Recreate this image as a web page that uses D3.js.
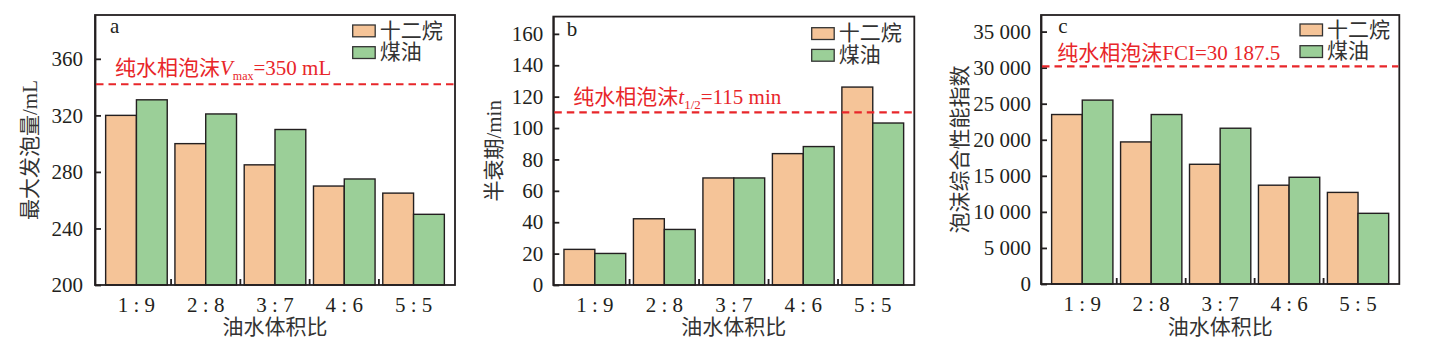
<!DOCTYPE html>
<html><head><meta charset="utf-8">
<script src="https://cdn.jsdelivr.net/npm/d3@7"></script>
<style>
html,body{margin:0;padding:0;background:#fff;}
svg{display:block;}
text{font-family:"Liberation Serif","Noto Sans CJK SC",serif;}
</style></head>
<body>
<svg id="chart" width="1439" height="352"></svg>
<script>
// ---- data ----
const categories = ["1 : 9", "2 : 8", "3 : 7", "4 : 6", "5 : 5"];
const seriesNames = ["十二烷", "煤油"];
const foamVolDodecane = [320, 300, 285, 270, 265];
const foamVolKerosene = [331, 321, 310, 275, 250];
const halfLifeDodecane = [22.7, 42.2, 68.2, 83.7, 126.1];
const halfLifeKerosene = [20.1, 35.4, 68.2, 88.2, 103.2];
const fciDodecane = [23500, 19700, 16600, 13700, 12700];
const fciKerosene = [25500, 23500, 21600, 14800, 9800];
const refValues = [342, 110, 30187.5];
const yTicksA = [200, 240, 280, 320, 360];
const yTicksB = [0, 20, 40, 60, 80, 100, 120, 140, 160];
const yTicksC = [0, 5000, 10000, 15000, 20000, 25000, 30000, 35000];
const yDomainA = [200, 391];
const yDomainB = [0, 171];
const yDomainC = [0, 37300];
const yTitles = ["最大发泡量/mL", "半衰期/min", "泡沫综合性能指数"];
const xTitle = "油水体积比";
const panelLetters = ["a", "b", "c"];

const colors = ["#f5c498", "#9bcf98"];
const dark = "#231f20";
const red = "#e8262a";
const cjk = "'Noto Sans CJK SC', sans-serif";
const serif = "'Liberation Serif', serif";

const fmtSpace = v => d3.format(",")(v).replace(/,/g, " ");

const panels = [
  {x0: 95, x1: 455, y0: 15, y1: 285, domain: yDomainA, ticks: yTicksA, fmt: d => d,
   s1: foamVolDodecane, s2: foamVolKerosene, ref: refValues[0], pad: 12, titleX: 28,
   letter: [110, 33], legend: [352.7, 25], ann: [115, 75], annType: "V"},
  {x0: 553.3, x1: 914.3, y0: 16.6, y1: 285, domain: yDomainB, ticks: yTicksB, fmt: d => d,
   s1: halfLifeDodecane, s2: halfLifeKerosene, ref: refValues[1], pad: 10, titleX: 492,
   letter: [566.7, 36], legend: [811.7, 27.7], ann: [573.3, 104], annType: "t"},
  {x0: 1041, x1: 1399.3, y0: 15, y1: 284, domain: yDomainC, ticks: yTicksC, fmt: fmtSpace,
   s1: fciDodecane, s2: fciKerosene, ref: refValues[2], pad: 10, titleX: 958,
   letter: [1058.3, 33], legend: [1300, 24], ann: [1057.3, 60], annType: "F"}
];

const svg = d3.select("#chart");

panels.forEach((p, pi) => {
  const g = svg.append("g");
  const inset = 6.8;
  const x = d3.scaleBand().domain(categories).range([p.x0 + inset, p.x1 - inset]).paddingInner(0).paddingOuter(0);
  const xs = d3.scaleBand().domain(seriesNames).range([0, x.bandwidth()]).paddingInner(0).paddingOuter(0.125);
  const y = d3.scaleLinear().domain(p.domain).range([p.y1, p.y0]);

  // bars
  const rows = categories.map((c, i) => ({c, vals: [p.s1[i], p.s2[i]]}));
  const grp = g.selectAll("g.grp").data(rows).join("g").attr("class", "grp")
    .attr("transform", d => `translate(${x(d.c)},0)`);
  grp.selectAll("rect").data(d => d.vals.map((v, k) => ({v, k}))).join("rect")
    .attr("x", d => xs(seriesNames[d.k]))
    .attr("width", xs.bandwidth())
    .attr("y", d => y(d.v))
    .attr("height", d => y(p.domain[0]) - y(d.v))
    .attr("fill", d => colors[d.k])
    .attr("stroke", dark).attr("stroke-width", 1.4);

  // frame
  g.append("rect").attr("x", p.x0).attr("y", p.y0).attr("width", p.x1 - p.x0).attr("height", p.y1 - p.y0)
    .attr("fill", "none").attr("stroke", dark).attr("stroke-width", 1.8);

  // y axis
  const ya = g.append("g").attr("transform", `translate(${p.x0},0)`)
    .call(d3.axisLeft(y).tickValues(p.ticks).tickFormat(p.fmt).tickSizeInner(-6).tickSizeOuter(0).tickPadding(p.pad));
  ya.select(".domain").attr("stroke", dark).attr("stroke-width", 1.8);
  ya.selectAll(".tick line").attr("stroke", dark).attr("stroke-width", 1.8);
  ya.selectAll(".tick text").attr("font-family", serif).attr("font-size", 21).attr("fill", dark);

  // x axis labels
  const xa = g.append("g").attr("transform", `translate(0,${p.y1})`)
    .call(d3.axisBottom(x).tickSize(0).tickPadding(12));
  xa.select(".domain").remove();
  xa.selectAll(".tick text").attr("font-family", serif).attr("font-size", 21).attr("fill", dark)
    .attr("dy", "0.71em");
  // boundary ticks (inward)
  g.selectAll("line.bt").data(categories.slice(1)).join("line").attr("class", "bt")
    .attr("x1", d => x(d)).attr("x2", d => x(d))
    .attr("y1", p.y1).attr("y2", p.y1 - 6)
    .attr("stroke", dark).attr("stroke-width", 1.8);

  // x title
  g.append("text").attr("x", (p.x0 + p.x1) / 2).attr("y", 334).attr("text-anchor", "middle")
    .attr("font-family", cjk).attr("font-size", 21).attr("fill", "#333").text(xTitle);

  // y title
  g.append("text").attr("transform", `translate(${p.titleX + 2},${(p.y0 + p.y1) / 2}) rotate(-90)`)
    .attr("text-anchor", "middle").attr("dominant-baseline", "central")
    .attr("font-family", cjk).attr("font-size", 21).attr("fill", "#333").text(yTitles[pi]);

  // panel letter
  g.append("text").attr("x", p.letter[0]).attr("y", p.letter[1]).attr("font-family", serif)
    .attr("font-size", 21).attr("fill", dark).text(panelLetters[pi]);

  // reference line
  g.append("line").attr("x1", p.x0 + 1).attr("x2", p.x1 - 1).attr("y1", y(p.ref)).attr("y2", y(p.ref))
    .attr("stroke", red).attr("stroke-width", 2.2).attr("stroke-dasharray", "7.5,5");

  // annotation
  const t = g.append("text").attr("x", p.ann[0]).attr("y", p.ann[1]).attr("font-size", 21).attr("fill", red);
  t.append("tspan").attr("font-family", cjk).text("纯水相泡沫");
  if (p.annType === "V") {
    t.append("tspan").attr("font-family", serif).attr("font-style", "italic").text("V");
    t.append("tspan").attr("font-family", serif).attr("font-size", 12).attr("dy", 5).text("max");
    t.append("tspan").attr("font-family", serif).attr("dy", -5).text("=350 mL");
  } else if (p.annType === "t") {
    t.append("tspan").attr("font-family", serif).attr("font-style", "italic").text("t");
    t.append("tspan").attr("font-family", serif).attr("font-size", 13).attr("dy", 5).text("1/2");
    t.append("tspan").attr("font-family", serif).attr("dy", -5).text("=115 min");
  } else {
    t.append("tspan").attr("font-family", serif).text("FCI=30 187.5");
  }

  // legend
  seriesNames.forEach((s, k) => {
    const ly = p.legend[1] + k * 21.7;
    g.append("rect").attr("x", p.legend[0]).attr("y", ly).attr("width", 22.5).attr("height", 11.8)
      .attr("fill", colors[k]).attr("stroke", "#333").attr("stroke-width", 1.3);
    g.append("text").attr("x", p.legend[0] + 27).attr("y", ly + 12.5).attr("font-family", cjk)
      .attr("font-size", 21).attr("fill", "#333").text(s);
  });
});
</script>
</body></html>
